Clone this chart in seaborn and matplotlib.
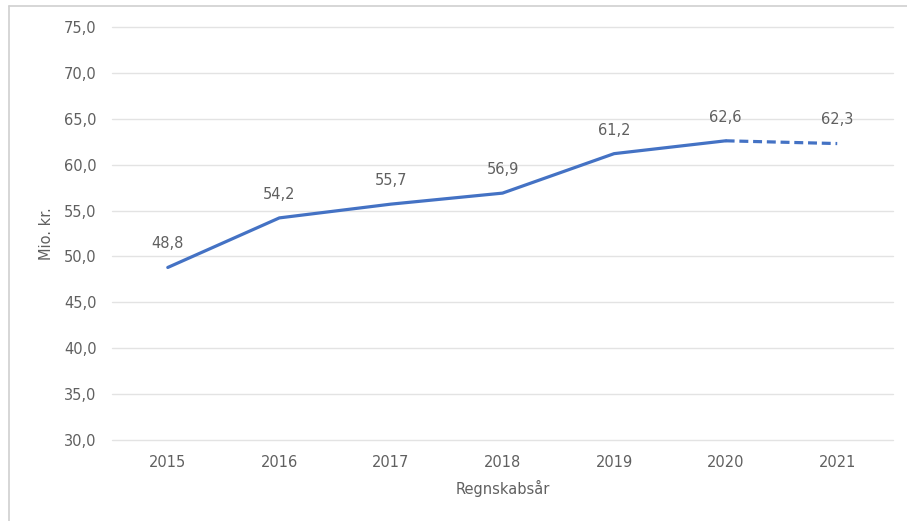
import matplotlib
matplotlib.use("Agg")
import matplotlib.pyplot as plt
import seaborn as sns
import pandas as pd
from matplotlib.lines import Line2D

years = ["2015", "2016", "2017", "2018", "2019", "2020", "2021"]
values = [48.8, 54.2, 55.7, 56.9, 61.2, 62.6, 62.3]
labels = ["48,8", "54,2", "55,7", "56,9", "61,2", "62,6", "62,3"]
yticks = [30, 35, 40, 45, 50, 55, 60, 65, 70, 75]

sns.set_theme(style="white")
plt.rcParams['font.family'] = ['DejaVu Sans']

df = pd.DataFrame({"year": years, "value": values})
solid = df.iloc[:6]
dashed = df.iloc[5:]

fig = plt.figure(figsize=(9.07, 5.21), dpi=100)
ax = fig.add_axes([112/907, 1-440/521, (893-112)/907, (440-27)/521])

col = "#4472C4"
txt = "#606060"
sns.lineplot(data=solid, x="year", y="value", ax=ax, color=col, linewidth=2.3,
             sort=False, solid_capstyle="round")
sns.lineplot(data=dashed, x="year", y="value", ax=ax, color=col, linewidth=2.3,
             sort=False, linestyle=(0, (2.8, 1.5)))

ax.set_xlim(-0.5, 6.5)
ax.set_ylim(30, 75)
ax.set_yticks(yticks)
ax.set_yticklabels([f"{v:.1f}".replace(".", ",") for v in yticks])
ax.yaxis.grid(True, color="#e3e3e3", linewidth=1)
for gl in ax.get_ygridlines():
    gl.set_clip_on(False)
ax.set_axisbelow(True)
for s in ax.spines.values():
    s.set_visible(False)
ax.tick_params(axis="both", length=0, labelsize=10.5, labelcolor=txt)
ax.tick_params(axis="y", pad=11)
ax.tick_params(axis="x", pad=11)

for i, (v, t) in enumerate(zip(values, labels)):
    ax.annotate(t, (i, v), xytext=(0, 17), textcoords="offset points",
                ha="center", va="center", fontsize=10.5, color=txt)

ax.set_xlabel("Regnskabsår", fontsize=10.5, color=txt, labelpad=7)
ax.set_ylabel("Mio. kr.", fontsize=10.5, color=txt, labelpad=7)

# outer chart border (top and left visible)
fig.add_artist(Line2D([8.5/907, 8.5/907], [0, 1-6/521], transform=fig.transFigure,
                      color="#d0d0d0", linewidth=1.2))
fig.add_artist(Line2D([8.5/907, 1], [1-6/521, 1-6/521], transform=fig.transFigure,
                      color="#d0d0d0", linewidth=1.2))

fig.savefig("out.png", dpi=100, facecolor="white")
